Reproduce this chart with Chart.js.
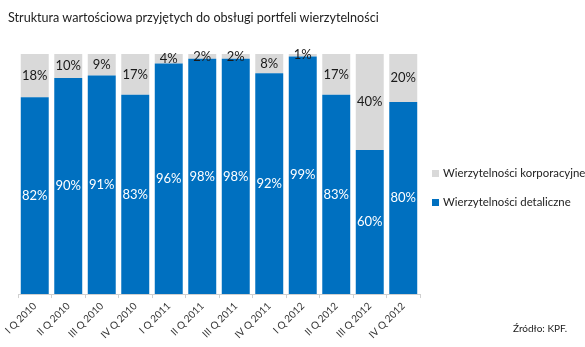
<!DOCTYPE html>
<html>
<head>
<meta charset="utf-8">
<script src="https://cdn.jsdelivr.net/npm/chart.js@4"></script>
<style>
  html, body { margin: 0; padding: 0; background: #fff; }
  #wrap { position: relative; width: 585px; height: 347px; font-family: Lato, "Open Sans", sans-serif; color: #222; }
  #title { position: absolute; left: 8px; top: 10px; font-size: 12.6px; white-space: nowrap; }
  #src { position: absolute; left: 513px; top: 322px; font-size: 10px; }
  .leg { position: absolute; left: 432px; font-size: 11.4px; white-space: nowrap; }
  .leg i { display: inline-block; width: 7px; height: 7px; margin-right: 4px; vertical-align: 0px; }
  canvas { position: absolute; left: 0; top: 0; }
</style>
</head>
<body>
<div id="wrap">
  <canvas id="c" width="585" height="347"></canvas>
  <div id="title">Struktura wartościowa przyjętych do obsługi portfeli wierzytelności</div>
  <div class="leg" style="top:166px"><i style="background:#D9D9D9"></i>Wierzytelności korporacyjne</div>
  <div class="leg" style="top:195px"><i style="background:#0070C0"></i>Wierzytelności detaliczne</div>
  <div id="src">Źródło: KPF.</div>
</div>
<script>
  const quarters = ['I Q 2010', 'II Q 2010', 'III Q 2010', 'IV Q 2010', 'I Q 2011', 'II Q 2011',
    'III Q 2011', 'IV Q 2011', 'I Q 2012', 'II Q 2012', 'III Q 2012', 'IV Q 2012'];
  const retail = [82, 90, 91, 83, 96, 98, 98, 92, 99, 83, 60, 80];
  const corporate = [18, 10, 9, 17, 4, 2, 2, 8, 1, 17, 40, 20];

  // percentage labels in the middle of each segment
  const segmentLabels = {
    id: 'segmentLabels',
    afterDatasetsDraw(chart) {
      const ctx = chart.ctx;
      ctx.save();
      ctx.font = '13px Lato, "Open Sans", sans-serif';
      ctx.textAlign = 'center';
      ctx.textBaseline = 'middle';
      chart.data.datasets.forEach(function (ds, di) {
        const meta = chart.getDatasetMeta(di);
        meta.data.forEach(function (bar, i) {
          ctx.fillStyle = ds.labelColor;
          ctx.fillText(ds.data[i] + '%', bar.x, (bar.y + bar.base) / 2);
        });
      });
      ctx.restore();
    }
  };

  new Chart(document.getElementById('c').getContext('2d'), {
    type: 'bar',
    data: {
      labels: quarters,
      datasets: [
        { label: 'Wierzytelności detaliczne', data: retail, backgroundColor: '#0070C0', labelColor: '#ffffff' },
        { label: 'Wierzytelności korporacyjne', data: corporate, backgroundColor: '#D9D9D9', labelColor: '#1a1a1a' }
      ]
    },
    options: {
      responsive: false,
      animation: false,
      barPercentage: 0.835,
      categoryPercentage: 1,
      layout: { padding: { left: 18, right: 165, top: 54, bottom: 4 } },
      scales: {
        x: {
          stacked: true,
          grid: { display: true, drawOnChartArea: false, tickLength: 4, color: '#d0d0d0' },
          border: { display: true, color: '#d0d0d0' },
          ticks: {
            minRotation: 45, maxRotation: 45, padding: 2,
            color: '#333', font: { family: 'Lato, "Open Sans", sans-serif', size: 10 }
          }
        },
        y: { stacked: true, display: false, min: 0, max: 100 }
      },
      plugins: { legend: { display: false }, tooltip: { enabled: false } }
    },
    plugins: [segmentLabels]
  });
</script>
</body>
</html>
